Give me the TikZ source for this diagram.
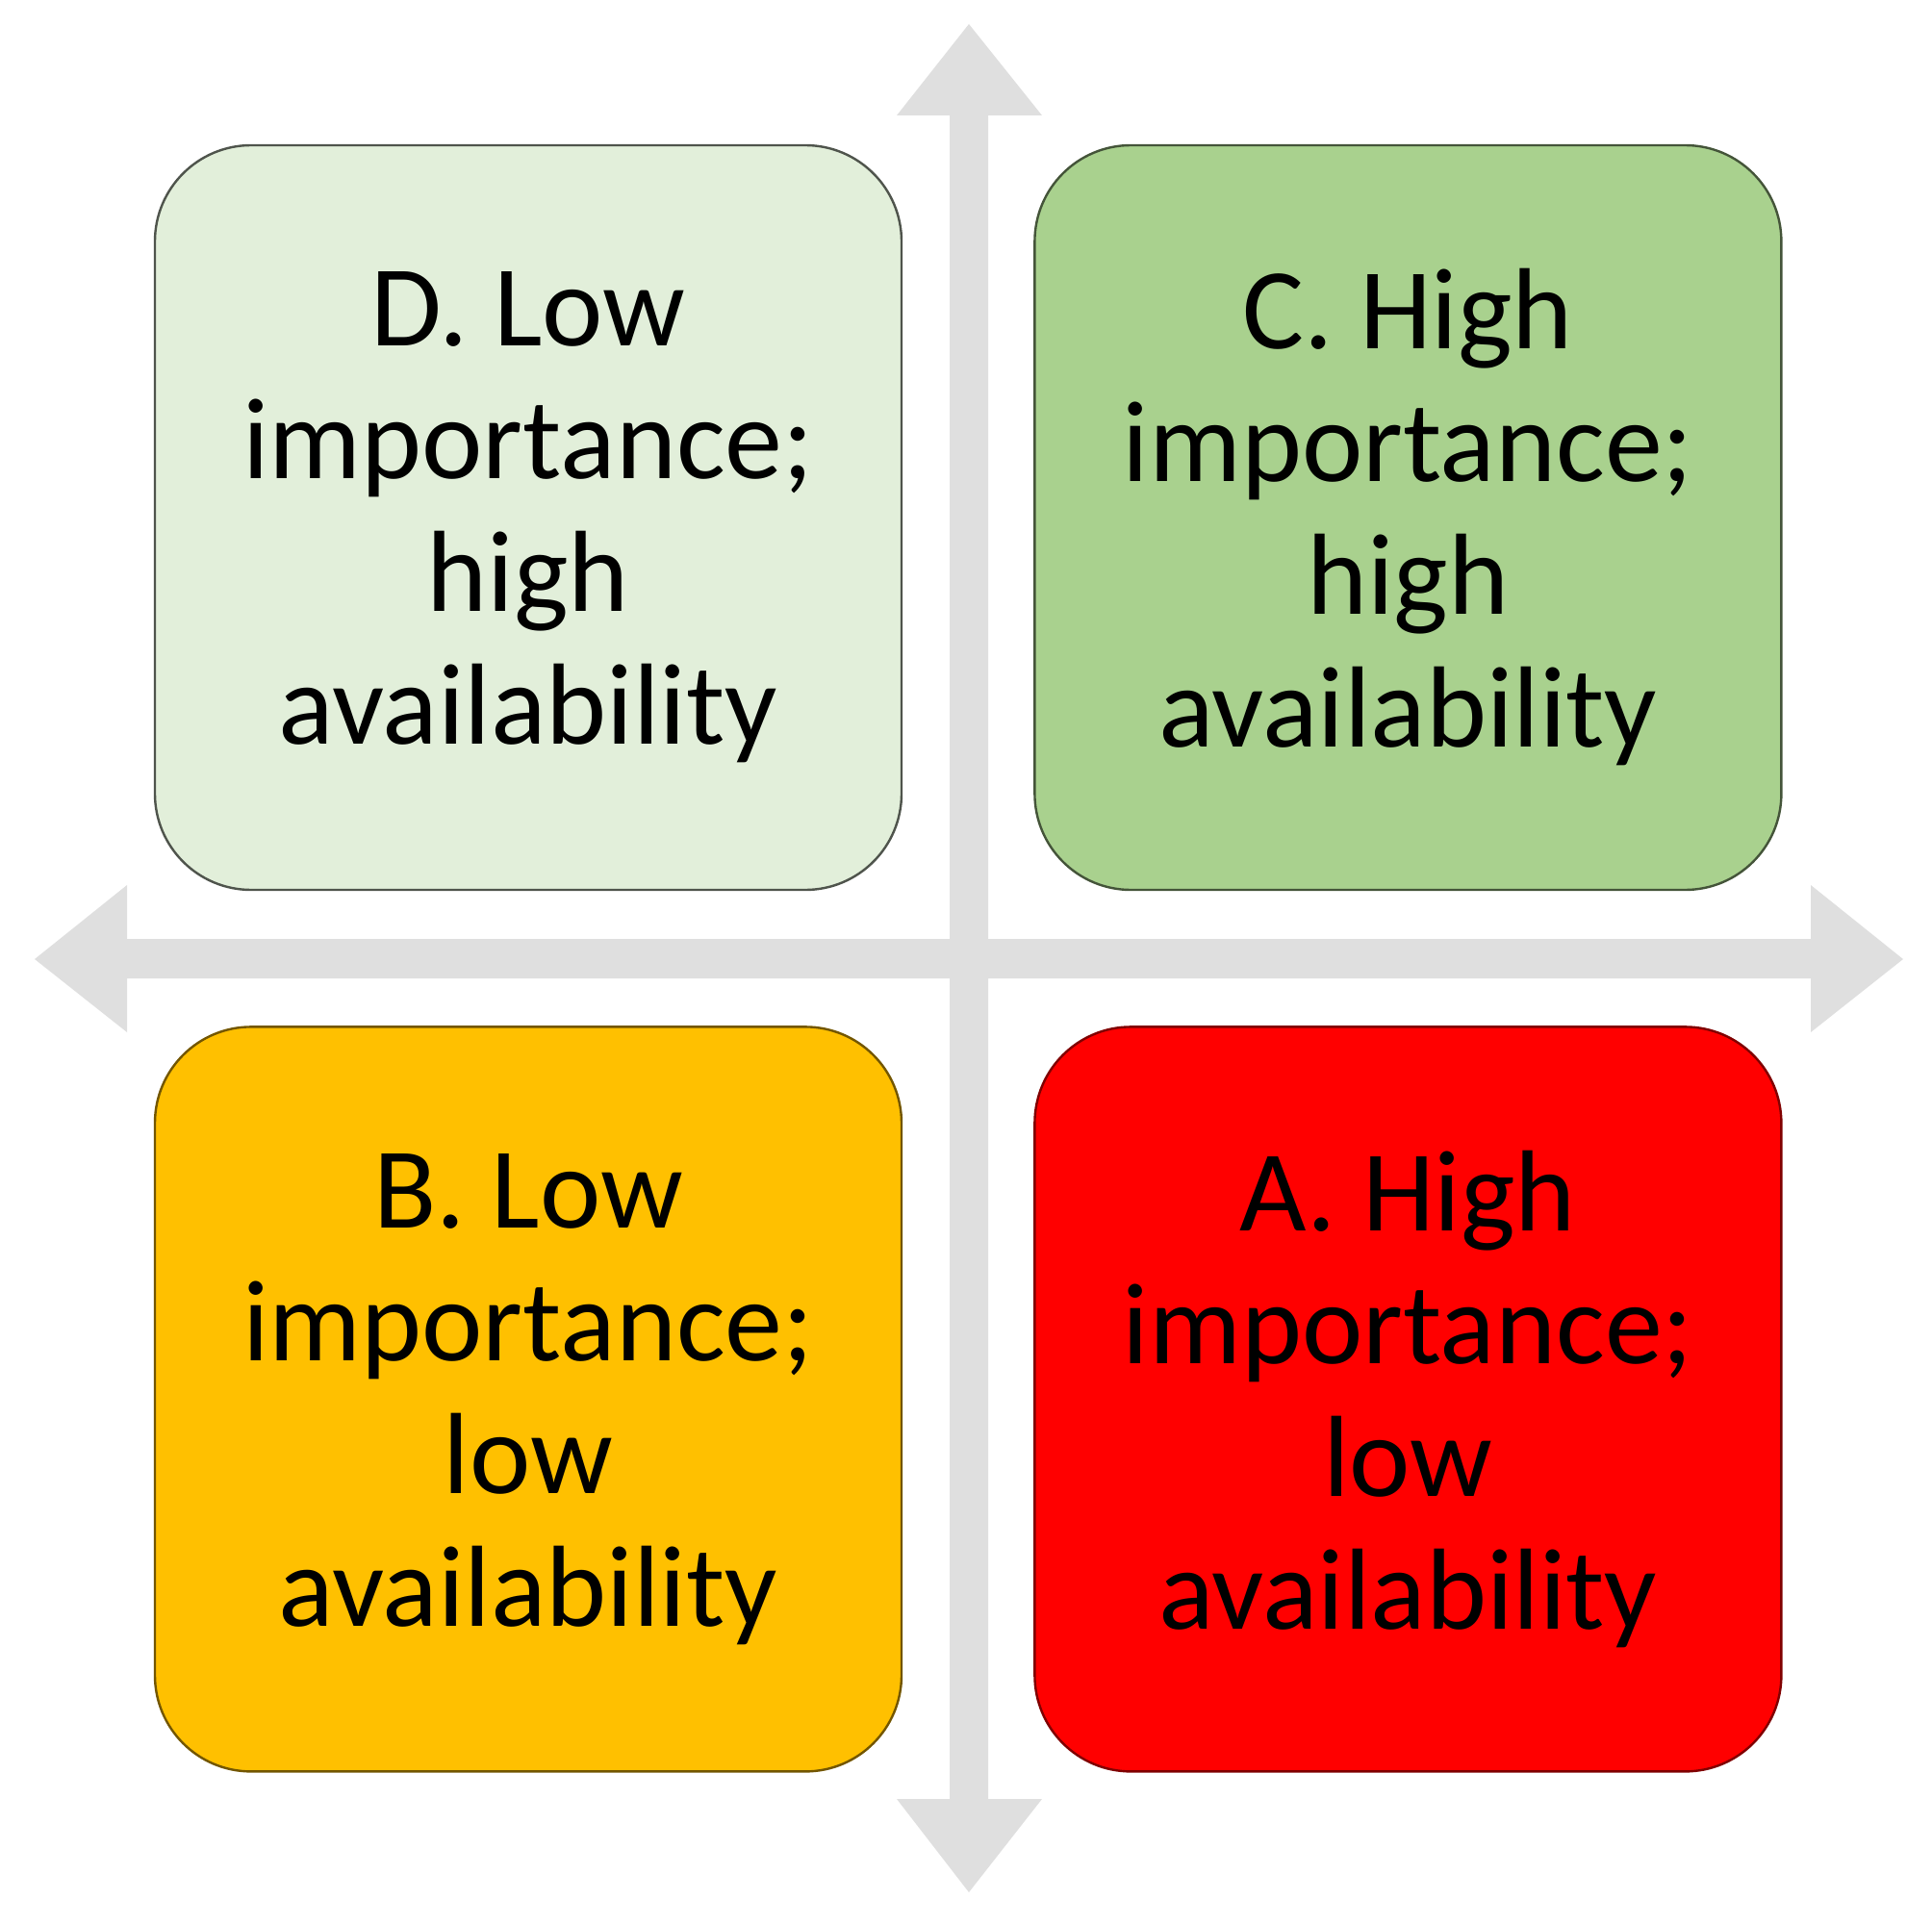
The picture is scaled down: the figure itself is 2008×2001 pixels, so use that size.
\documentclass[tikz,border=0pt]{standalone}
\usepackage{fontspec}
\setmainfont{Carlito}
\usetikzlibrary{positioning}
\usepackage{xcolor}
\definecolor{axisgray}{HTML}{DFDFDF}
\definecolor{paleGreen}{HTML}{E2EFDA}
\definecolor{midGreen}{HTML}{A9D18E}
\definecolor{amber}{HTML}{FFC000}
\definecolor{alarmRed}{HTML}{FF0000}

\begin{document}
\begin{tikzpicture}[
		x=0.5pt,y=-0.5pt,
		quadrant/.style={draw,rectangle,rounded corners=50pt,minimum width=388pt,minimum height=387pt,line width=1.2pt,align=center,font=\fontsize{60}{69}\selectfont,text=black}
		]
		\useasboundingbox (0,0) rectangle (2008,2001);
		
		% Assi (croce con quattro punte)
		\fill[axisgray] (1007,25) -- (1083,120) -- (1027,120) -- (1027,976) -- (1882,976) -- (1882,920) -- (1978,997) -- (1882,1073) -- (1882,1017) -- (1027,1017) -- (1027,1870) -- (1083,1870) -- (1007,1967) -- (932,1870) -- (987,1870) -- (987,1017) -- (132,1017) -- (132,1073) -- (36,997) -- (132,920) -- (132,976) -- (987,976) -- (987,120) -- (932,120) -- cycle;
		
		% Quadranti sopra
		\node[quadrant,fill=paleGreen,draw=paleGreen!35!black] (lowhigh) at (549,538) {D. Low\\importance;\\high\\availability};
		\node[quadrant,fill=midGreen,draw=midGreen!40!black,right=68pt of lowhigh] (highhigh) {C. High\\importance;\\high\\availability};
		
		% Quadranti sotto
		\node[quadrant,fill=amber,draw=amber!45!black,below=70pt of lowhigh] (lowlow) {B. Low\\importance;\\low\\availability};
		\node[quadrant,fill=alarmRed,draw=alarmRed!50!black,below=70pt of highhigh] (highlow) {A. High\\importance;\\low\\availability};
		
	\end{tikzpicture}
\end{document}
